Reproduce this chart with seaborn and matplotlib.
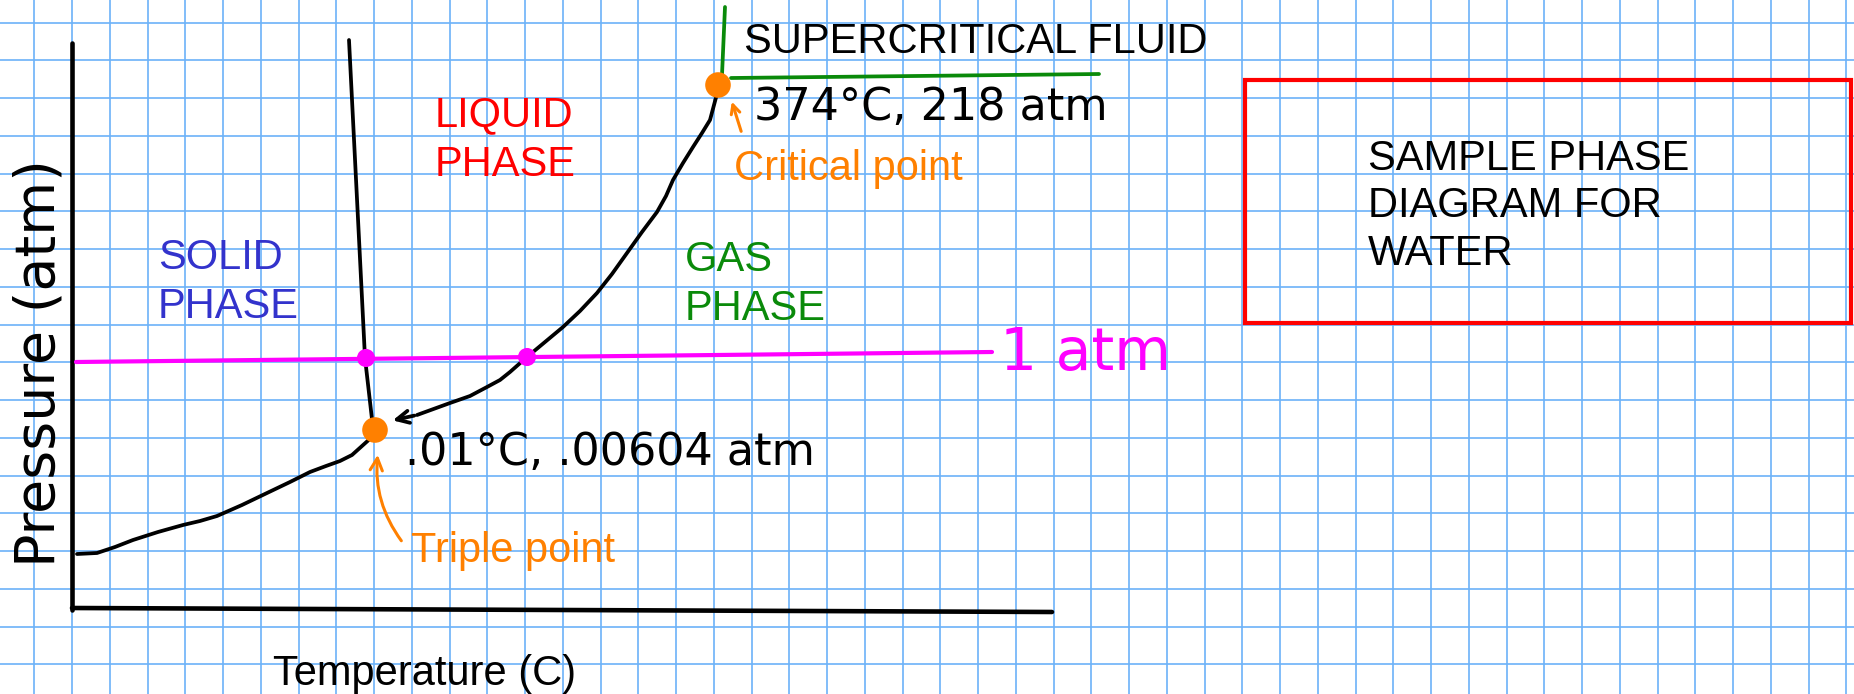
import numpy as np
import matplotlib.pyplot as plt
import seaborn as sns
from matplotlib.patches import Rectangle

sublimation_t = [77, 97, 115, 133, 158, 183, 200, 217, 242, 267, 290, 310, 326, 340, 352, 362, 372]
sublimation_p = [554, 553, 547, 540, 532, 525, 521, 516, 505, 493, 482, 472, 466, 461, 455, 446, 437]

melting_t = [349, 365, 373]
melting_p = [40, 358, 428]

vapor_t = [417, 450, 470, 487, 500, 510, 527, 545, 563, 580, 597, 612, 627, 642, 657, 666, 673, 683, 693, 702, 710, 718]
vapor_p = [415, 403, 396, 387, 380, 372, 357, 342, 327, 311, 293, 274, 253, 232, 212, 196, 180, 163, 147, 133, 120, 90]

one_atm_t = [76, 992]
one_atm_p = [362, 352]
one_atm_cross_t = [366, 527]
one_atm_cross_p = [358, 357]

triple_point = (375, 430)
critical_point = (718, 85)

phase_labels = ["SOLID\nPHASE", "LIQUID\nPHASE", "GAS\nPHASE"]
phase_colors = ["#3333cc", "#ff0000", "#0a8a0a"]

sns.set_style("white")
plt.rcParams['font.family'] = ['Liberation Sans', 'DejaVu Sans']

fig = plt.figure(figsize=(18.54, 6.94), dpi=100)
ax = fig.add_axes([0, 0, 1, 1])
ax.set_xlim(0, 1854)
ax.set_ylim(694, 0)

# graph paper
ax.set_xticks(np.arange(34.4, 1854, 37.75))
ax.set_yticks(np.arange(22.7, 694, 37.75))
ax.grid(True, color='#6cb2f8', lw=1.2)
ax.set_axisbelow(True)
ax.tick_params(length=0, labelbottom=False, labelleft=False)
for s in ax.spines.values():
    s.set_visible(False)

# axes drawn by hand
ax.plot([72, 72], [43, 610], color='black', lw=3.3, solid_capstyle='round')
ax.plot([72, 1052], [608, 612], color='black', lw=3.3, solid_capstyle='round')

# phase boundaries
line_kw = dict(sort=False, estimator=None, color='black', lw=2.7, ax=ax)
sns.lineplot(x=sublimation_t, y=sublimation_p, **line_kw)
sns.lineplot(x=melting_t, y=melting_p, **line_kw)
sns.lineplot(x=vapor_t, y=vapor_p, **line_kw)
ax.annotate('', xy=(390, 421), xytext=(vapor_t[0], vapor_p[0]),
            arrowprops=dict(arrowstyle='->', color='black', lw=2.7, mutation_scale=22))

# 1 atm line
sns.lineplot(x=one_atm_t, y=one_atm_p, sort=False, estimator=None, color='#ff00ff', lw=3, ax=ax)
sns.scatterplot(x=one_atm_cross_t, y=one_atm_cross_p, color='#ff00ff', s=170, edgecolor='none', ax=ax, zorder=4)
ax.text(1000, 370, "1 atm", color='#ff00ff', fontsize=42, family='DejaVu Sans')

# supercritical corner
ax.plot([725, 722], [7, 75], color='#0a8a0a', lw=2.7)
ax.plot([731, 1099], [78, 74], color='#0a8a0a', lw=2.7)

sns.scatterplot(x=[triple_point[0], critical_point[0]], y=[triple_point[1], critical_point[1]],
                color='#ff8000', s=340, edgecolor='none', ax=ax, zorder=5)

ax.text(744, 53, "SUPERCRITICAL FLUID", fontsize=30, color='black')
ax.text(754, 120, "374°C, 218 atm", fontsize=32, color='black', family='DejaVu Sans')
ax.text(405, 465, ".01°C, .00604 atm", fontsize=32, color='black', family='DejaVu Sans')

ax.text(734, 180, "Critical point", fontsize=30, color='#ff8000')
ax.annotate('', xy=(731, 99), xytext=(742, 134),
            arrowprops=dict(arrowstyle='->', color='#ff8000', lw=2.2, mutation_scale=16))
ax.text(411, 562, "Triple point", fontsize=30, color='#ff8000')
ax.annotate('', xy=(378, 452), xytext=(403, 543),
            arrowprops=dict(arrowstyle='->', color='#ff8000', lw=2.2, mutation_scale=22,
                            connectionstyle='arc3,rad=-0.2'))

# baseline of the last line of each label
label_pos = [(158, 318), (435, 176), (685, 320)]
for lab, col, (lx, ly) in zip(phase_labels, phase_colors, label_pos):
    ax.text(lx, ly, lab, fontsize=30, color=col, va='baseline', linespacing=1.3)

ax.text(273, 685, "Temperature (C)", fontsize=30, color='black')
ax.text(40, 363, "Pressure (atm)", fontsize=40, color='black', rotation=90,
        ha='center', va='center', family='DejaVu Sans')

ax.add_patch(Rectangle((1245, 80), 606, 243, fill=False, edgecolor='#ff0000', lw=3))
ax.text(1368, 265, "SAMPLE PHASE\nDIAGRAM FOR\nWATER", fontsize=30, color='black',
        va='baseline', linespacing=1.25)

fig.savefig('out.png', dpi=100)
